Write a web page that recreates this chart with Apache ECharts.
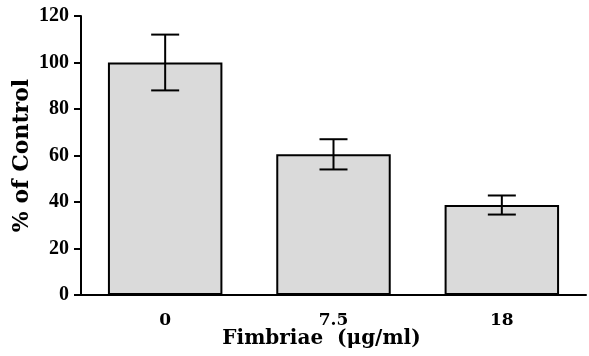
<!DOCTYPE html>
<html>
<head>
<meta charset="utf-8">
<script src="https://cdn.jsdelivr.net/npm/echarts@6/dist/echarts.min.js"></script>
<style>
  html, body { margin: 0; padding: 0; background: #fff; }
  #chart { width: 589px; height: 356px; }
</style>
</head>
<body>
<div id="chart"></div>
<script>
// Fimbriae dose vs % of control (mean ± error)
const categories = ["0", "7.5", "18"];
const means = [100, 60.5, 38.7];
const errors = [12, 6.5, 4.1];
const yTicks = { min: 0, max: 120, interval: 20 };

const SERIF = "DejaVu Serif, Liberation Serif, serif";
const TIMES = "Liberation Serif, Times New Roman, serif";

const chart = echarts.init(document.getElementById("chart"), null, { renderer: "canvas" });

const errData = categories.map((c, i) => [i, means[i] - errors[i], means[i] + errors[i]]);

const option = {
  backgroundColor: "#fff",
  animation: false,
  grid: { left: 81, right: 3, top: 16, bottom: 61, containLabel: false, outerBoundsMode: "none" },
  xAxis: {
    type: "category",
    data: categories,
    name: "Fimbriae  (\u03bcg/ml)",
    nameLocation: "middle",
    nameGap: 34,
    nameMoveOverlap: false,
    nameTextStyle: {
      color: "#000", fontFamily: SERIF, fontWeight: "bold", fontSize: 20,
      padding: [0, 24, 0, 0]
    },
    axisLine: { lineStyle: { color: "#000", width: 2 } },
    axisTick: { alignWithLabel: true, length: 7, lineStyle: { color: "#000", width: 2 } },
    axisLabel: { color: "#000", fontFamily: SERIF, fontWeight: "bold", fontSize: 17, margin: 17 },
    splitLine: { show: false }
  },
  yAxis: {
    type: "value",
    min: yTicks.min,
    max: yTicks.max,
    interval: yTicks.interval,
    name: "% of Control",
    nameLocation: "middle",
    nameGap: 48,
    nameMoveOverlap: false,
    nameTextStyle: { color: "#000", fontFamily: SERIF, fontWeight: "bold", fontSize: 22 },
    axisLine: { show: true, lineStyle: { color: "#000", width: 2 } },
    axisTick: { show: true, length: 7, lineStyle: { color: "#000", width: 2 } },
    axisLabel: { color: "#000", fontFamily: TIMES, fontWeight: "bold", fontSize: 20, margin: 12 },
    splitLine: { show: false }
  },
  series: [
    {
      type: "bar",
      data: means,
      barWidth: "68%",
      itemStyle: { color: "#dadada", borderColor: "#000", borderWidth: 2 },
      z: 2
    },
    {
      type: "custom",
      data: errData,
      z: 3,
      renderItem: (params, api) => {
        const x = api.value(0);
        const lo = api.coord([x, api.value(1)]);
        const hi = api.coord([x, api.value(2)]);
        const half = 14;
        const style = { stroke: "#000", lineWidth: 2 };
        return {
          type: "group",
          children: [
            { type: "line", shape: { x1: hi[0], y1: hi[1], x2: lo[0], y2: lo[1] }, style },
            { type: "line", shape: { x1: hi[0] - half, y1: hi[1], x2: hi[0] + half, y2: hi[1] }, style },
            { type: "line", shape: { x1: lo[0] - half, y1: lo[1], x2: lo[0] + half, y2: lo[1] }, style }
          ]
        };
      }
    }
  ]
};

chart.setOption(option);
</script>
</body>
</html>
